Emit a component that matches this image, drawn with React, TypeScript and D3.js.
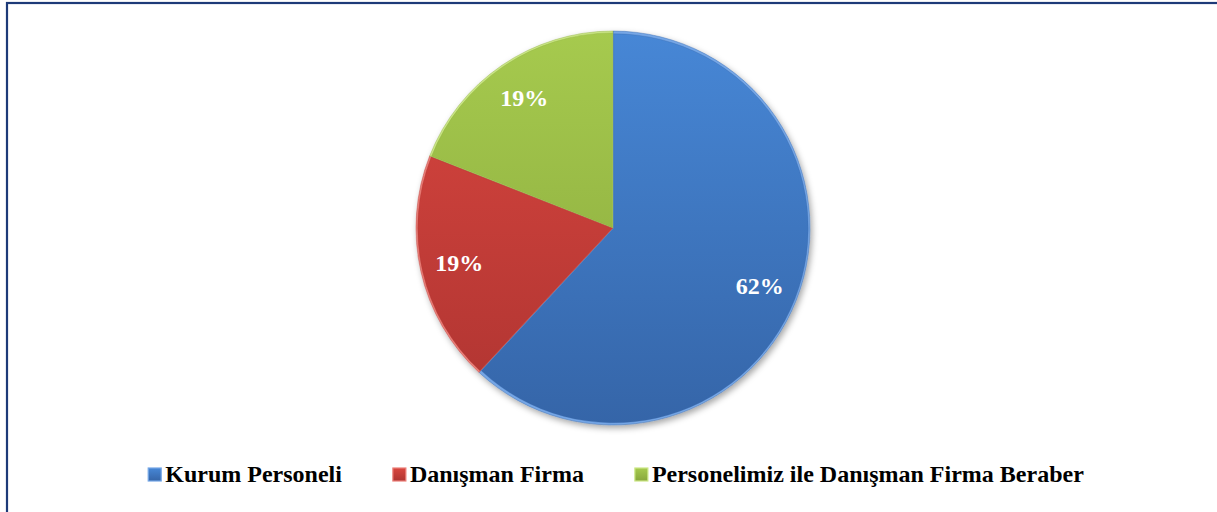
import React, { useEffect, useRef } from "react";
import * as d3 from "d3";

const categories: string[] = ["Kurum Personeli", "Danışman Firma", "Personelimiz ile Danışman Firma Beraber"];
const values: number[] = [13, 4, 4];
const topColors: string[] = ["#4787d6", "#d9463f", "#a6ca4e"];
const bottomColors: string[] = ["#3565a8", "#ae3431", "#88a73c"];
const edgeColors: string[] = ["#74a6e6", "#ec7f78", "#cbe785"];

const W = 1217;
const H = 512;

export default function App() {
  const ref = useRef<SVGSVGElement | null>(null);

  useEffect(() => {
    const svg = d3.select(ref.current);
    svg.selectAll("*").remove();

    const cx = 613;
    const cy = 228;
    const R = 197;

    const defs = svg.append("defs");
    categories.forEach((_, i) => {
      const g = defs
        .append("linearGradient")
        .attr("id", `grad${i}`)
        .attr("gradientUnits", "userSpaceOnUse")
        .attr("x1", 0)
        .attr("y1", -R)
        .attr("x2", 0)
        .attr("y2", R);
      g.append("stop").attr("offset", "0%").attr("stop-color", topColors[i]);
      g.append("stop").attr("offset", "100%").attr("stop-color", bottomColors[i]);
      const lg = defs
        .append("linearGradient")
        .attr("id", `lg${i}`)
        .attr("x1", 0)
        .attr("y1", 0)
        .attr("x2", 0)
        .attr("y2", 1);
      lg.append("stop").attr("offset", "0%").attr("stop-color", topColors[i]);
      lg.append("stop").attr("offset", "100%").attr("stop-color", bottomColors[i]);
    });
    const f = defs
      .append("filter")
      .attr("id", "shadow")
      .attr("x", "-20%")
      .attr("y", "-20%")
      .attr("width", "140%")
      .attr("height", "140%");
    f.append("feDropShadow")
      .attr("dx", 2)
      .attr("dy", 3)
      .attr("stdDeviation", 3)
      .attr("flood-color", "#000")
      .attr("flood-opacity", 0.35);

    // frame
    svg
      .append("rect")
      .attr("x", 7)
      .attr("y", 3)
      .attr("width", W + 20)
      .attr("height", H + 20)
      .attr("fill", "none")
      .attr("stroke", "#1d3a78")
      .attr("stroke-width", 2.2);

    const pie = d3
      .pie<number>()
      .sort(null)
      .value((d) => d);
    const arcs = pie(values);
    const total = d3.sum(values);
    const arc = d3.arc<d3.PieArcDatum<number>>().innerRadius(0).outerRadius(R);
    const innerArc = d3
      .arc<d3.PieArcDatum<number>>()
      .innerRadius(0)
      .outerRadius(R - 2.5);
    const shiftArc = d3
      .arc<d3.PieArcDatum<number>>()
      .innerRadius(0)
      .outerRadius(3);
    const labelArc = d3
      .arc<d3.PieArcDatum<number>>()
      .innerRadius(R * 0.8)
      .outerRadius(R * 0.8);

    const g = svg.append("g").attr("transform", `translate(${cx},${cy})`);
    const gs = g.append("g").attr("filter", "url(#shadow)");
    gs.selectAll("path.slice")
      .data(arcs)
      .join("path")
      .attr("class", "slice")
      .attr("d", arc)
      .attr("fill", (_, i) => edgeColors[i])
      .attr("stroke", (_, i) => bottomColors[i])
      .attr("stroke-opacity", 0.5)
      .attr("stroke-width", 0.8);
    g.selectAll("path.inner")
      .data(arcs)
      .join("path")
      .attr("class", "inner")
      .attr("d", innerArc)
      .attr("transform", (d) => {
        const [x, y] = shiftArc.centroid(d);
        return `translate(${x * 0.5},${y * 0.5})`;
      })
      .attr("fill", (_, i) => `url(#grad${i})`)
      .attr("stroke", (_, i) => bottomColors[i])
      .attr("stroke-opacity", 0.4)
      .attr("stroke-width", 0.8);

    g.selectAll("text.pct")
      .data(arcs)
      .join("text")
      .attr("class", "pct")
      .attr("transform", (d) => `translate(${labelArc.centroid(d)})`)
      .attr("text-anchor", "middle")
      .attr("dy", "0.35em")
      .attr("fill", "#ffffff")
      .attr("font-family", "'Liberation Serif', 'Times New Roman', serif")
      .attr("font-weight", "bold")
      .attr("font-size", 24)
      .text((d) => `${Math.round((d.value / total) * 100)}%`);

    // legend
    const legend = svg.append("g");
    const markerSize = 13;
    const textGap = 4;
    const itemGap = 51;
    const items = legend
      .selectAll("g.item")
      .data(categories)
      .join("g")
      .attr("class", "item");
    items
      .append("rect")
      .attr("width", markerSize)
      .attr("height", markerSize)
      .attr("fill", (_, i) => `url(#lg${i})`)
      .attr("stroke", (_, i) => edgeColors[i])
      .attr("stroke-width", 1.2);
    items
      .append("text")
      .attr("x", markerSize + textGap)
      .attr("y", markerSize + 1)
      .attr("fill", "#000")
      .attr("font-family", "'Liberation Serif', 'Times New Roman', serif")
      .attr("font-weight", "bold")
      .attr("font-size", 24)
      .text((d) => d);
    const widths: number[] = [];
    items.each(function () {
      const t = d3.select(this).select("text").node() as SVGTextElement;
      widths.push(markerSize + textGap + t.getComputedTextLength());
    });
    const totalW = d3.sum(widths) + itemGap * (widths.length - 1);
    let x = 616 - totalW / 2;
    items.attr("transform", (_, i) => {
      const tx = x;
      x += widths[i] + itemGap;
      return `translate(${tx},468)`;
    });
  }, []);

  return (
    <svg
      ref={ref}
      width={W}
      height={H}
      style={{ position: "absolute", left: 0, top: 0, background: "#fff" }}
    />
  );
}
